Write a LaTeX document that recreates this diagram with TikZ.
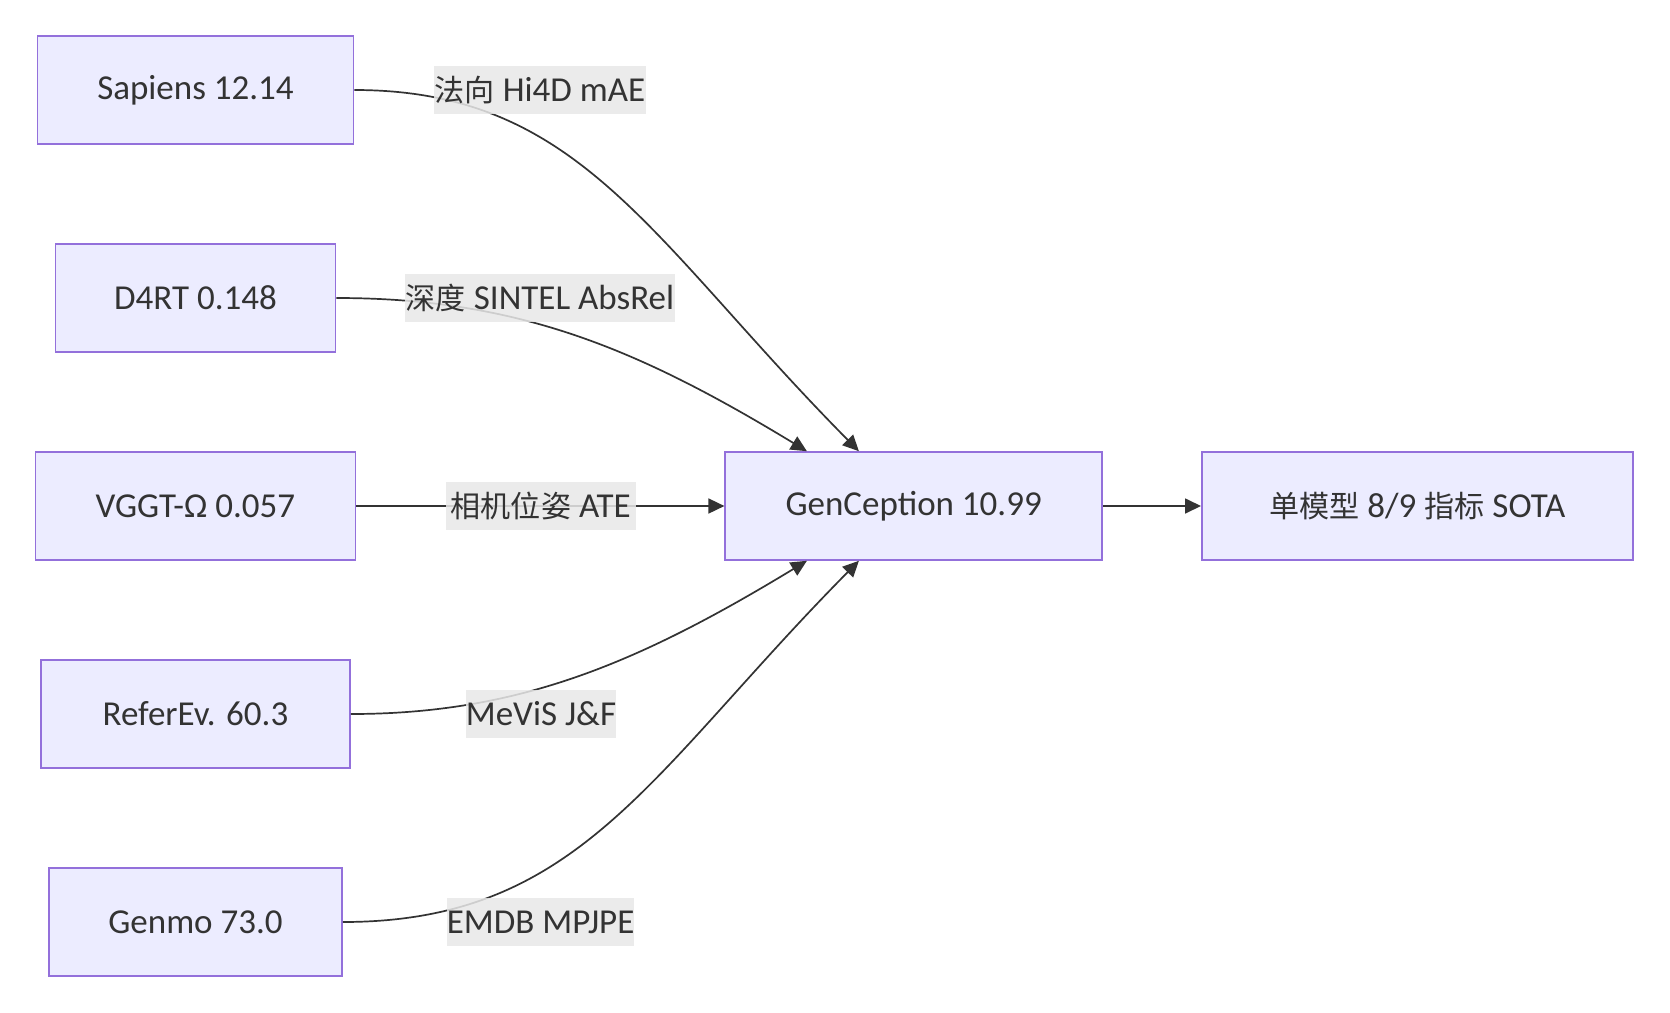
\documentclass[tikz,border=0pt]{standalone}
\usepackage{fontspec}
\setmainfont{Carlito}
\newfontfamily\cjk[Scale=0.86]{Noto Sans CJK SC}
\usetikzlibrary{arrows.meta}
\definecolor{boxfill}{HTML}{ECECFF}
\definecolor{boxdraw}{HTML}{9370DB}
\definecolor{linecol}{HTML}{333333}
\definecolor{labelbg}{HTML}{E8E8E8}
\definecolor{textcol}{HTML}{333333}
\tikzset{
  box/.style={draw=boxdraw, fill=boxfill, line width=1.6pt, inner sep=0pt,
    minimum height=108pt, text=textcol, font=\fontsize{35}{42}\selectfont},
  lab/.style={fill=labelbg, fill opacity=0.85, text opacity=1, inner xsep=0pt, inner ysep=0pt,
    minimum height=48pt, text=textcol, font=\fontsize{35}{42}\selectfont},
  edge/.style={draw=linecol, line width=1.7pt, -{Triangle[length=16pt,width=15pt]}}
}
\begin{document}
\begin{tikzpicture}[x=1pt,y=-1pt]
\useasboundingbox[fill=white] (0,0) rectangle (1670,1012);
\node[box, minimum width=316pt] (s) at (195.5,90) {Sapiens 12.14};
\node[box, minimum width=280pt] (d) at (195.5,298) {D4RT 0.148};
\node[box, minimum width=320pt] (v) at (195.4,506) {VGGT-Ω 0.057};
\node[box, minimum width=309pt] (r) at (195.5,714) {ReferEv. 60.3};
\node[box, minimum width=293pt] (g) at (195.5,922) {Genmo 73.0};
\node[box, minimum width=377pt] (gc) at (913.7,506) {GenCeption 10.99};
\node[box, minimum width=431pt] (so) at (1417.3,506) {{\cjk 单模型} 8/9 {\cjk 指标} SOTA};
\coordinate (gT1) at ([xshift=134.5pt]gc.north west);
\coordinate (gT2) at ([xshift=82.5pt]gc.north west);
\coordinate (gB2) at ([xshift=82.5pt]gc.south west);
\coordinate (gB1) at ([xshift=134.5pt]gc.south west);
\draw[edge] (s.east) .. controls (580,90) and (650,240) .. (gT1);
\draw[edge] (d.east) .. controls (520,298) and (640,350) .. (gT2);
\draw[edge] (v.east) -- (gc.west);
\draw[edge] (r.east) .. controls (520,714) and (640,662) .. (gB2);
\draw[edge] (g.east) .. controls (580,922) and (650,772) .. (gB1);
\draw[edge] (gc.east) -- (so.west);
\node[lab, minimum width=212pt] (l1) at (540,90) {{\cjk 法向} Hi4D mAE};
\node[lab, minimum width=270pt] (l2) at (540,298) {{\cjk 深度} SINTEL AbsRel};
\node[lab, minimum width=190pt] (l3) at (540.7,506) {{\cjk 相机位姿} ATE};
\node[lab, minimum width=148pt] (l4) at (541,714) {MeViS J\&F};
\node[lab, minimum width=178pt] (l5) at (540.6,922) {EMDB MPJPE};
\end{tikzpicture}
\end{document}
